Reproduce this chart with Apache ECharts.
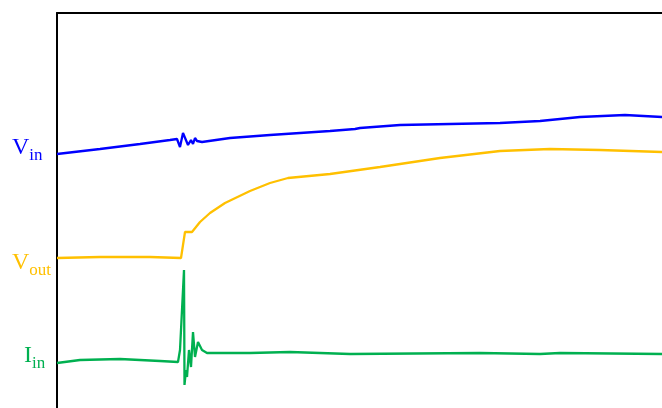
<!DOCTYPE html>
<html>
<head>
<meta charset="utf-8">
<script src="https://cdn.jsdelivr.net/npm/echarts@6/dist/echarts.min.js"></script>
<style>
html,body{margin:0;padding:0;background:#fff;}
#main{width:662px;height:408px;}
</style>
</head>
<body>
<div id="main"></div>
<script>
// 波形数据：[时间, 幅值]，单位任意
var vinData = [
    [0,254],[43,259],[83,264],[113,268],[120,269],[123,261],[126,275],[131,263],
    [134,268],[136,264],[138,270],[140,267],[142,269],[145,266],[173,270],[213,273],
    [243,275],[273,277],[298,279],[303,280],[343,283],[393,284],[443,285],[483,287],
    [523,291],[568,293],[605,291]
];
var voutData = [
    [0,150],[43,151],[93,151],[124,150],[128,176],[135,176],[143,186],[153,195],
    [168,205],[193,217],[213,225],[231,230],[273,234],[323,241],[383,250],[443,257],
    [493,259],[543,258],[605,256]
];
var iinData = [
    [0,45],[23,48],[63,49],[103,47],[121,46],[123,58],[127,138],[127.5,23],[129,38],
    [130,31],[132,58],[134,41],[136,76],[138,51],[141,66],[145,58],[150,55],[193,55],
    [233,56],[293,54],[423,55],[483,54],[503,55],[605,54]
];
var seriesNames = ['Vin', 'Vout', 'Iin'];
var seriesColors = ['#0000ff', '#ffc000', '#00b050'];

var dom = document.getElementById('main');
var myChart = echarts.init(dom);

function line(name, data, color) {
    return {
        name: name,
        type: 'line',
        data: data,
        showSymbol: false,
        smooth: false,
        lineStyle: {color: color, width: 2.3},
        itemStyle: {color: color}
    };
}

// 左侧带下标的标签
function label(main, sub, color, x, y) {
    return {
        type: 'text',
        left: x,
        top: y,
        style: {
            text: '{a|' + main + '}{b|' + sub + '}',
            fill: color,
            rich: {
                a: {fontFamily: 'Liberation Serif', fontSize: 24, fill: color, verticalAlign: 'bottom', lineHeight: 24},
                b: {fontFamily: 'Liberation Serif', fontSize: 17, fill: color, verticalAlign: 'bottom', lineHeight: 17, padding: [0, 0, -4, 0]}
            }
        }
    };
}

var option = {
    animation: false,
    grid: {left: 57, top: 13, right: 0, bottom: 0},
    xAxis: {
        type: 'value',
        position: 'top',
        min: 0,
        max: 605,
        axisLine: {show: true, onZero: false, lineStyle: {color: '#000', width: 2}},
        axisTick: {show: false},
        axisLabel: {show: false},
        splitLine: {show: false}
    },
    yAxis: {
        type: 'value',
        min: 0,
        max: 395,
        axisLine: {show: true, onZero: false, lineStyle: {color: '#000', width: 2}},
        axisTick: {show: false},
        axisLabel: {show: false},
        splitLine: {show: false}
    },
    graphic: [
        label('V', 'in', seriesColors[0], 12, 136),
        label('V', 'out', seriesColors[1], 12, 251),
        label('I', 'in', seriesColors[2], 24, 344)
    ],
    series: [
        line(seriesNames[0], vinData, seriesColors[0]),
        line(seriesNames[1], voutData, seriesColors[1]),
        line(seriesNames[2], iinData, seriesColors[2])
    ]
};
myChart.setOption(option, true);
</script>
</body>
</html>
